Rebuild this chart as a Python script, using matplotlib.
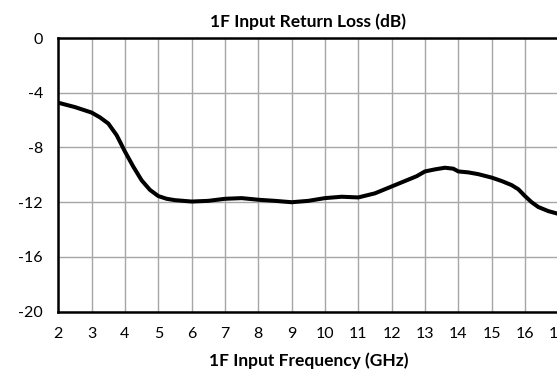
import matplotlib
matplotlib.use('Agg')
import matplotlib.pyplot as plt

# 주파수 (GHz) 와 반사손실 (dB) - 그림에서 읽은 값
freq = [2, 2.5, 3, 3.25, 3.5, 3.75, 4, 4.25, 4.5, 4.75, 5, 5.25, 5.5, 6, 6.5,
        7, 7.5, 8, 8.5, 9, 9.5, 10, 10.5, 11, 11.5, 12, 12.5, 12.75, 13, 13.3,
        13.6, 13.85, 14, 14.3, 14.6, 15, 15.3, 15.6, 15.8, 16, 16.2, 16.4, 16.7, 17]
return_loss = [-4.73, -5.05, -5.45, -5.8, -6.25, -7.1, -8.3, -9.4, -10.4, -11.1,
               -11.55, -11.75, -11.85, -11.95, -11.9, -11.75, -11.7, -11.82, -11.9,
               -12.0, -11.9, -11.7, -11.6, -11.65, -11.35, -10.85, -10.35, -10.1,
               -9.75, -9.6, -9.48, -9.55, -9.75, -9.82, -9.95, -10.2, -10.45, -10.75,
               -11.05, -11.55, -12.0, -12.35, -12.65, -12.85]
x_ticks = list(range(2, 18))
y_ticks = [0, -4, -8, -12, -16, -20]

plt.rcParams['font.family'] = ['Lato', 'DejaVu Sans']

fig = plt.figure(figsize=(5.57, 3.73), dpi=100)
ax = fig.add_axes([58.3 / 557, 61.3 / 373, 500 / 557, 273.7 / 373])

ax.plot(freq, return_loss, color='black', linewidth=2.9, solid_capstyle='round')

ax.set_xlim(2, 17)
ax.set_ylim(-20, 0)
ax.set_xticks(x_ticks)
ax.set_yticks(y_ticks)
ax.set_yticklabels([str(v) for v in y_ticks])
ax.grid(True, color='#a6a6a6', linewidth=1.0)
ax.set_axisbelow(True)
ax.tick_params(length=0, labelsize=11.5, pad=11)

for side in ['left', 'bottom', 'top']:
    ax.spines[side].set_linewidth(1.8)
    ax.spines[side].set_color('black')
ax.spines['right'].set_visible(False)

ax.set_title('1F Input Return Loss (dB)', fontsize=12.5, fontweight='bold', pad=8)
ax.set_xlabel('1F Input Frequency (GHz)', fontsize=12.5, fontweight='bold', labelpad=8)

fig.savefig('out.png', dpi=100)
